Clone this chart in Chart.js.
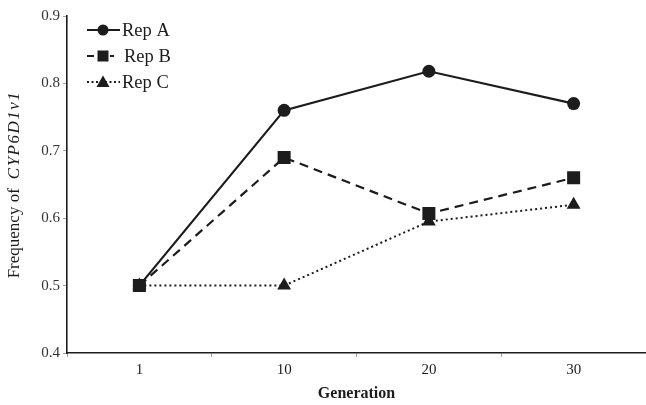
<!DOCTYPE html>
<html>
<head>
<meta charset="utf-8">
<script src="https://cdn.jsdelivr.net/npm/chart.js@4/dist/chart.umd.min.js"></script>
<style>
  html, body { margin: 0; padding: 0; background: #ffffff; }
  #wrap { width: 646px; height: 405px; position: relative; }
</style>
</head>
<body>
<div id="wrap"><canvas id="c" width="646" height="405"></canvas></div>
<script>
// ---- data ----
const generations = ["1", "10", "20", "30"];
const repA = [0.50, 0.76, 0.818, 0.77];
const repB = [0.50, 0.69, 0.607, 0.66];
const repC = [0.50, 0.50, 0.595, 0.62];
const seriesNames = ["Rep A", "Rep B", "Rep C"];
const yTicks = [0.4, 0.5, 0.6, 0.7, 0.8, 0.9];
const xTitle = "Generation";
const yTitleNormal = "Frequency of";
const yTitleItalic = "CYP6D1v1";

const INK = "#1c1c1c";
const SERIF = "'Liberation Serif', 'Times New Roman', serif";

const styles = [
  { dash: [], pointStyle: "circle", radius: 6.5 },
  { dash: [9, 6], pointStyle: "rect", radius: 9.2 },
  { dash: [2, 3], pointStyle: "triangle", radius: 8 }
];

const datasets = [repA, repB, repC].map((vals, i) => ({
  label: seriesNames[i],
  data: vals,
  borderColor: INK,
  backgroundColor: INK,
  borderWidth: i === 2 ? 2 : 2.2,
  borderDash: styles[i].dash,
  pointStyle: styles[i].pointStyle,
  pointRadius: styles[i].radius,
  pointHoverRadius: styles[i].radius,
  pointBackgroundColor: INK,
  pointBorderColor: INK,
  pointBorderWidth: 0,
  tension: 0,
  fill: false,
  order: [1, 0, 2][i]
}));

// y-axis title with mixed italic text
const yTitlePlugin = {
  id: "yTitle",
  afterDraw(chart) {
    const ctx = chart.ctx;
    ctx.save();
    ctx.fillStyle = INK;
    ctx.textBaseline = "middle";
    ctx.textAlign = "left";
    const fN = "17px " + SERIF;
    const fI = "italic 17px " + SERIF;
    const gap = 9;
    ctx.font = fN; const w1 = ctx.measureText(yTitleNormal).width;
    ctx.font = fI;
    try { ctx.letterSpacing = "1.5px"; } catch (e) {}
    const w2 = ctx.measureText(yTitleItalic).width;
    try { ctx.letterSpacing = "0px"; } catch (e) {}
    const total = w1 + gap + w2;
    ctx.translate(15, 184.5);
    ctx.rotate(-Math.PI / 2);
    ctx.font = fN; ctx.fillText(yTitleNormal, -total / 2, 0);
    ctx.font = fI;
    try { ctx.letterSpacing = "1.5px"; } catch (e) {}
    ctx.fillText(yTitleItalic, -total / 2 + w1 + gap, 0);
    ctx.restore();
  }
};

// legend inside plot area (line + marker + text)
const legendPlugin = {
  id: "innerLegend",
  afterDraw(chart) {
    const ctx = chart.ctx;
    const rows = [30, 56, 82];
    const mx = 103;
    chart.data.datasets.forEach((ds, i) => {
      const y = rows[i];
      ctx.save();
      ctx.strokeStyle = INK;
      ctx.lineWidth = 2.2;
      ctx.beginPath();
      if (i === 0) {
        ctx.moveTo(87, y); ctx.lineTo(120, y);
      } else if (i === 1) {
        ctx.moveTo(87, y); ctx.lineTo(94, y);
        ctx.moveTo(110, y); ctx.lineTo(114, y);
      } else {
        ctx.setLineDash([2, 2.5]);
        ctx.moveTo(87, y); ctx.lineTo(120, y);
      }
      ctx.stroke();
      ctx.setLineDash([]);
      ctx.fillStyle = INK;
      ctx.beginPath();
      if (i === 0) { ctx.arc(mx, y, 5.5, 0, Math.PI * 2); }
      else if (i === 1) { ctx.rect(mx - 5.5, y - 5.5, 11, 11); }
      else { ctx.moveTo(mx, y - 6.5); ctx.lineTo(mx + 6.5, y + 5); ctx.lineTo(mx - 6.5, y + 5); ctx.closePath(); }
      ctx.fill();
      ctx.font = "18.5px " + SERIF;
      ctx.textBaseline = "middle";
      ctx.textAlign = "left";
      ctx.fillText(ds.label, i === 1 ? 124 : 122, y + 1);
      ctx.restore();
    });
  }
};

new Chart(document.getElementById("c"), {
  type: "line",
  data: { labels: generations, datasets: datasets },
  options: {
    responsive: false,
    animation: false,
    events: [],
    layout: { autoPadding: false, padding: { top: 16, left: 0, right: 0, bottom: 0 } },
    plugins: {
      legend: { display: false },
      tooltip: { enabled: false },
      title: { display: false }
    },
    scales: {
      x: {
        type: "category",
        offset: true,
        grid: {
          display: true,
          offset: true,
          drawOnChartArea: false,
          drawTicks: true,
          tickLength: 4,
          tickColor: "#a0a0a0",
          tickWidth: 1
        },
        border: { display: true, color: INK, width: 1.6 },
        ticks: {
          color: INK,
          font: { family: SERIF, size: 15 },
          padding: 4,
          maxRotation: 0,
          autoSkip: false
        },
        title: {
          display: true,
          text: xTitle,
          color: INK,
          font: { family: SERIF, size: 16, weight: "bold" },
          padding: { top: 0, bottom: 2 }
        },
        afterFit(scale) {
          scale.height = 52;
          scale.paddingLeft = 0;
          scale.paddingRight = 0;
        }
      },
      y: {
        min: yTicks[0],
        max: yTicks[yTicks.length - 1],
        afterBuildTicks(scale) { scale.ticks = yTicks.map(v => ({ value: v })); },
        grid: {
          display: true,
          drawOnChartArea: false,
          drawTicks: true,
          tickLength: 4,
          tickColor: "#a0a0a0",
          tickWidth: 1
        },
        border: { display: true, color: INK, width: 1.6 },
        ticks: {
          color: "#333333",
          font: { family: SERIF, size: 15 },
          padding: 3,
          callback: v => Number(v).toFixed(1)
        },
        afterFit(scale) { scale.width = 67; }
      }
    }
  },
  plugins: [yTitlePlugin, legendPlugin]
});
</script>
</body>
</html>
